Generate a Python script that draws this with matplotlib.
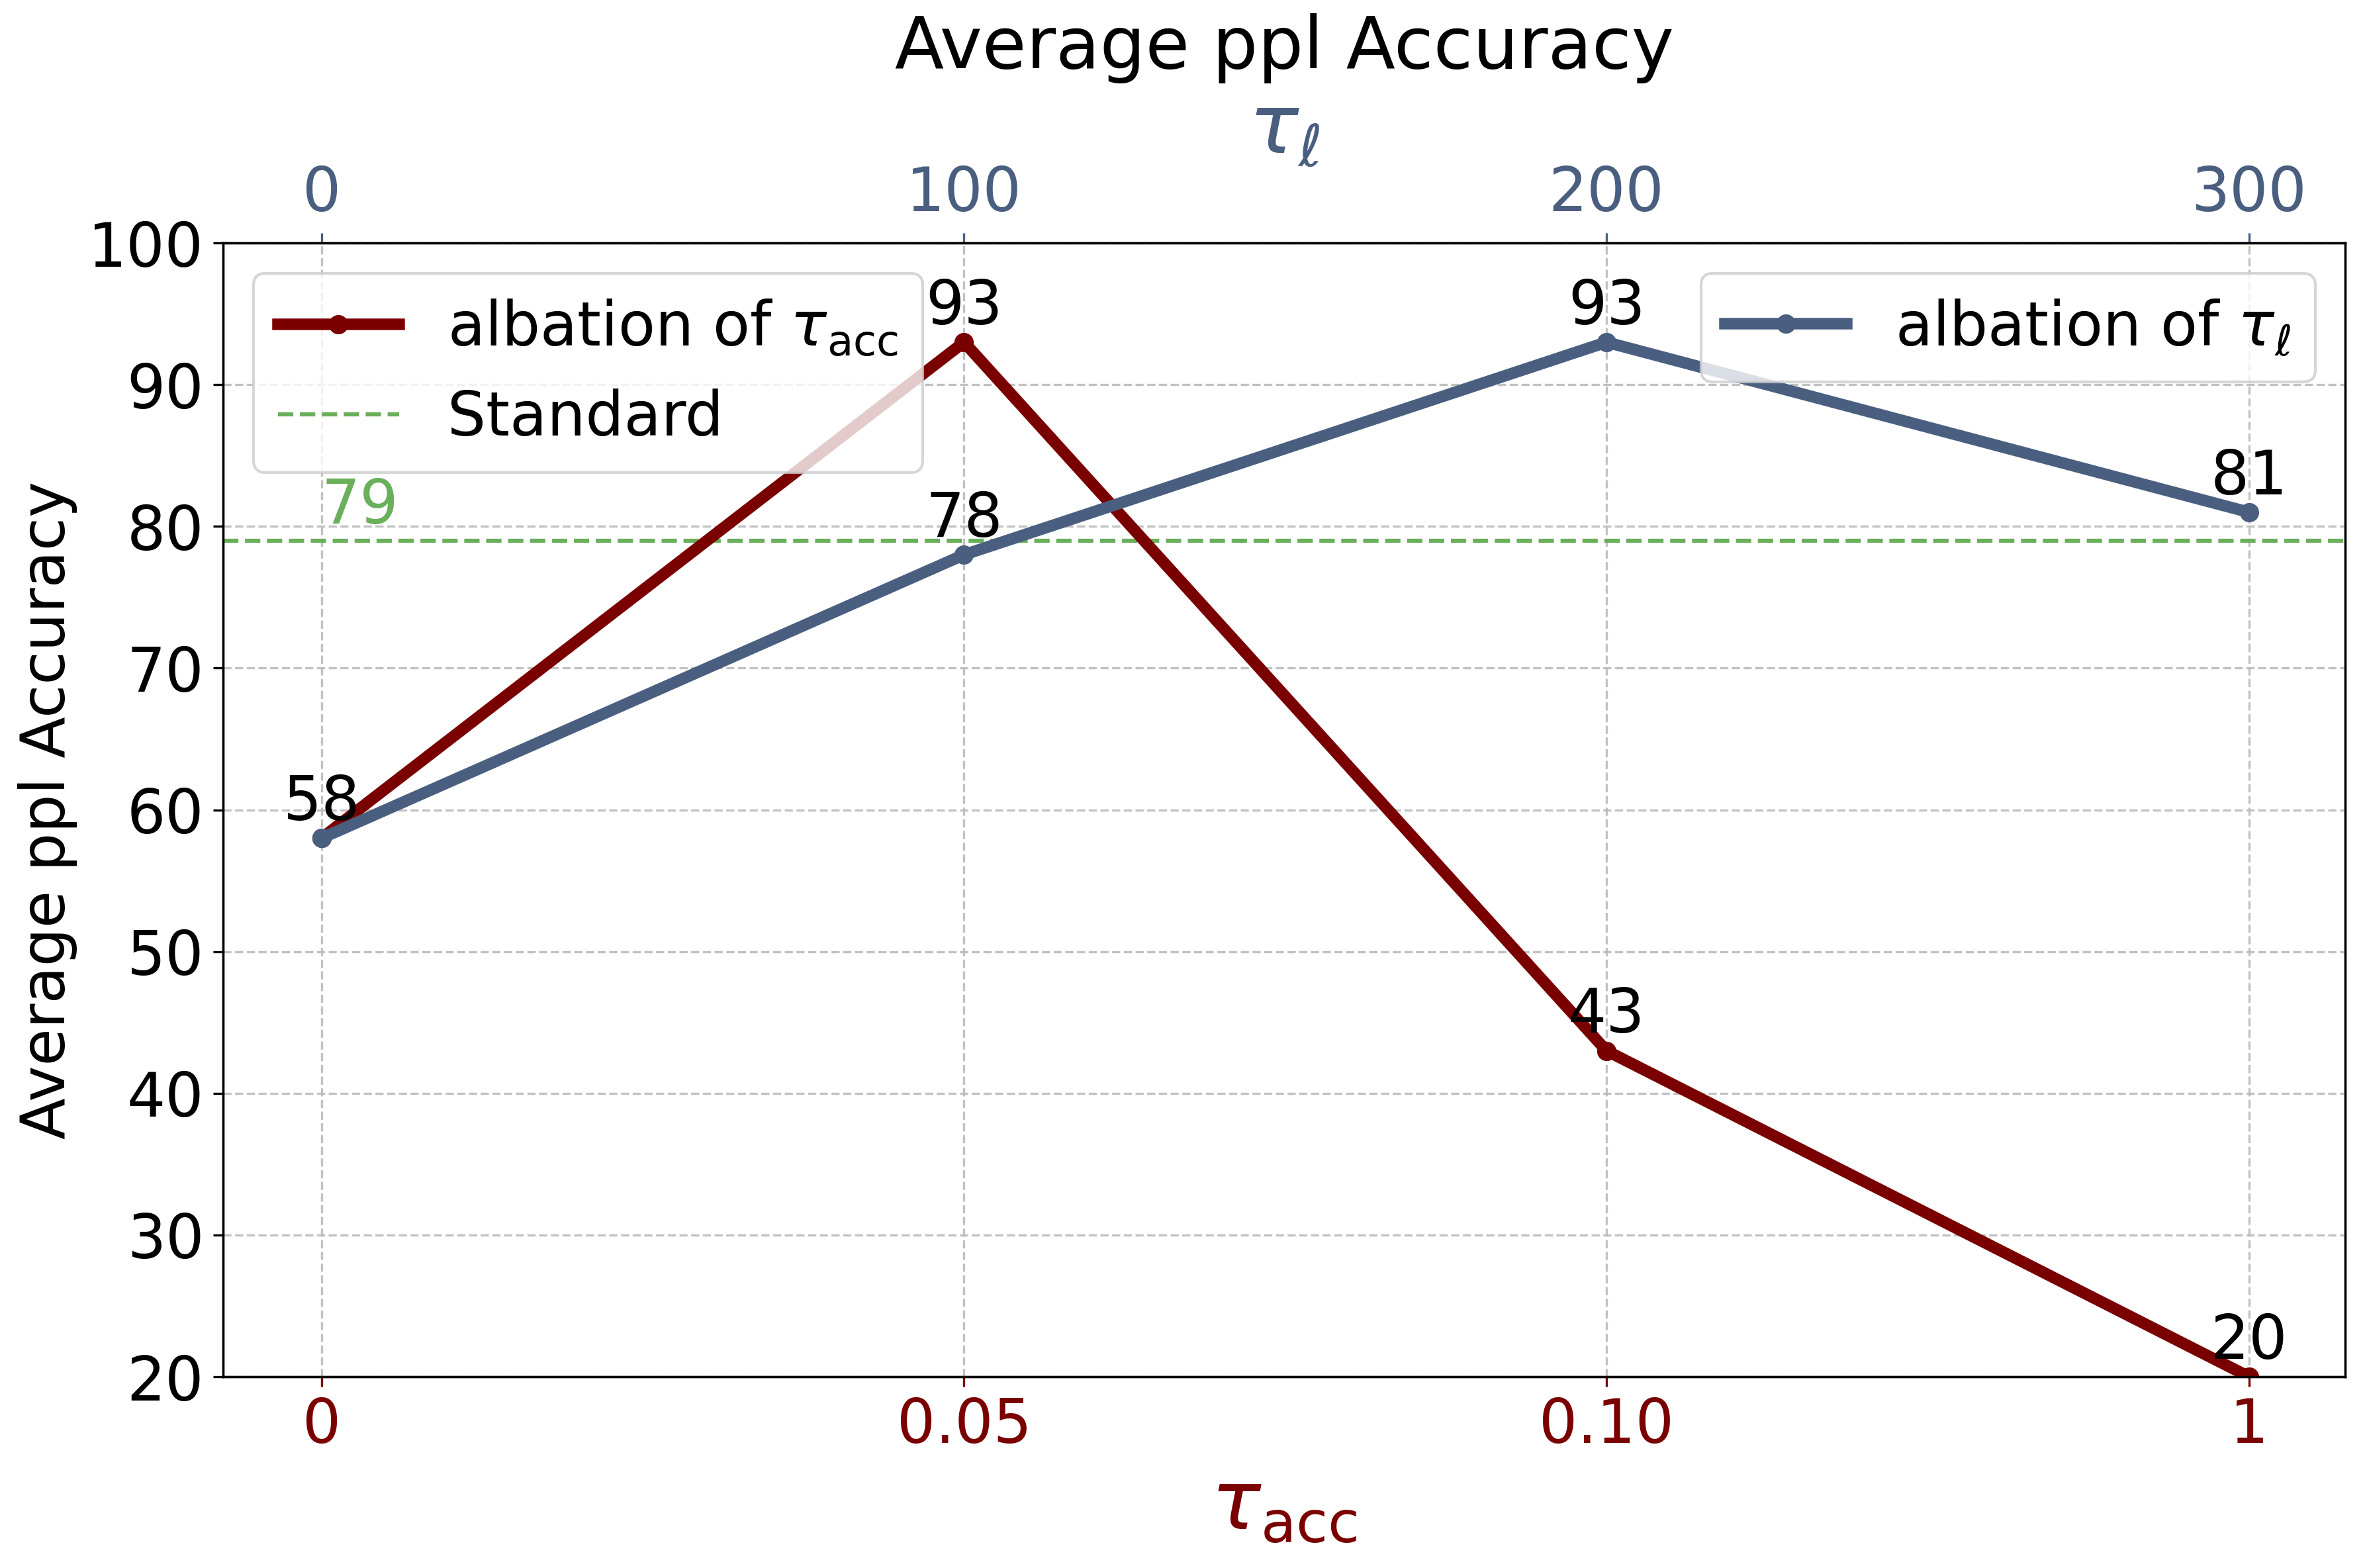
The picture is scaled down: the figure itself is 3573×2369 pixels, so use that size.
import matplotlib
matplotlib.use("Agg")
import matplotlib.pyplot as plt

acc_labels = ["0", "0.05", "0.10", "1"]
acc_values = [58, 93, 43, 20]
ell_labels = ["0", "100", "200", "300"]
ell_ticks = [0, 100, 200, 300]
ell_values = [58, 78, 93, 81]
standard_value = 79

RED = "#7a0000"
BLUE = "#4a5f80"
GREEN = "#6aaf5a"

fig = plt.figure(figsize=(11.91, 7.897), dpi=300)
ax = fig.add_axes([0.0944, 0.122, 0.8973, 0.723])

pos = list(range(len(acc_labels)))
ax.plot(pos, acc_values, color=RED, lw=4.2, marker='o', markersize=6,
        label=r"albation of $\tau_{\mathrm{acc}}$", zorder=3)
ax.axhline(standard_value, color=GREEN, ls='--', lw=1.5, label="Standard")
ax.text(0.0, standard_value + 0.3, str(standard_value), color=GREEN,
        fontsize=22, ha='left', va='bottom')
for x, v in zip(pos, acc_values):
    ax.annotate(str(v), (x, v), xytext=(0, 2), textcoords='offset points',
                ha='center', va='bottom', fontsize=22, color='black', zorder=5)

ax.set_xlim(-0.153, 3.15)
ax.set_ylim(20, 100)
ax.set_xticks(pos)
ax.set_xticklabels(acc_labels, color=RED)
ax.tick_params(axis='x', colors=RED, labelsize=22, labelcolor=RED)
ax.tick_params(axis='y', labelsize=22)
ax.set_xlabel(r"$\tau_{\mathrm{acc}}$", color=RED, fontsize=30)
ax.set_ylabel("Average ppl Accuracy", fontsize=22)
ax.grid(True, ls='--', color='#bbbbbb', lw=0.8, alpha=0.9)
leg1 = ax.legend(loc='upper left', fontsize=22, framealpha=0.8)

ax2 = ax.twiny()
ax2.plot(ell_ticks, ell_values, color=BLUE, lw=4.2, marker='o', markersize=6,
         label=r"albation of $\tau_{\ell}$", zorder=3)
for x, v in zip(ell_ticks, ell_values):
    if x == 0:
        continue
    ax2.annotate(str(v), (x, v), xytext=(0, 2), textcoords='offset points',
                 ha='center', va='bottom', fontsize=22, color='black', zorder=5)
ax2.set_xlim(-15.3, 315)
ax2.set_xticks(ell_ticks)
ax2.set_xticklabels(ell_labels)
ax2.tick_params(axis='x', colors=BLUE, labelsize=22, labelcolor=BLUE)
ax2.set_xlabel(r"$\tau_{\ell}$", color=BLUE, fontsize=30)
ax2.legend(loc='upper right', fontsize=22, framealpha=0.8)
ax2.set_title("Average ppl Accuracy", fontsize=26, pad=8)

fig.savefig("out.png", dpi=300)
